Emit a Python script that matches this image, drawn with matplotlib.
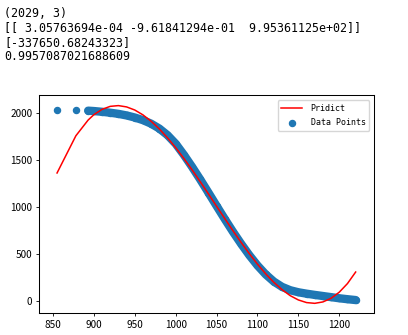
import matplotlib
matplotlib.use('Agg')
import matplotlib.pyplot as plt

# printed output above the chart
out_lines = [
    '(2029, 3)',
    '[[ 3.05763694e-04 -9.61841294e-01  9.95361125e+02]]',
    '[-337650.68243323]',
    '0.9957087021688609',
]

# data points
x_data = [855, 878, 893, 900, 910, 920, 930, 940, 950, 960, 970, 980, 990,
          1000, 1010, 1020, 1030, 1040, 1050, 1060, 1070, 1080, 1090, 1100,
          1110, 1120, 1130, 1140, 1150, 1160, 1170, 1180, 1190, 1200, 1210, 1220]
y_data = [2032, 2031, 2028, 2024, 2016, 2006, 1994, 1977, 1955, 1927, 1889, 1837, 1767,
          1675, 1557, 1429, 1294, 1154, 1012, 872, 736, 607, 486, 376,
          281, 204, 148, 112, 90, 75, 62, 50, 38, 26, 16, 7]

# prediction curve
x_pred = [855, 878, 893, 900, 910, 920, 930, 940, 950, 960, 970, 980, 990,
          1000, 1010, 1020, 1030, 1040, 1050, 1060, 1070, 1080, 1090, 1100,
          1110, 1120, 1130, 1140, 1150, 1160, 1170, 1180, 1190, 1200, 1210, 1220]
y_pred = [1363, 1760, 1928, 1985, 2042, 2074, 2082, 2068, 2035, 1983, 1915, 1833, 1738,
          1633, 1518, 1397, 1270, 1140, 1008, 877, 747, 622, 502, 390,
          287, 196, 118, 54, 8, -20, -28, -13, 26, 91, 183, 306]

x_ticks = [850, 900, 950, 1000, 1050, 1100, 1150, 1200]
y_ticks = [0, 500, 1000, 1500, 2000]

plt.rcParams['xtick.major.size'] = 2.5
plt.rcParams['ytick.major.size'] = 2.5
plt.rcParams['xtick.major.pad'] = 2.5
plt.rcParams['ytick.major.pad'] = 2.5
plt.rcParams['xtick.major.width'] = 0.6
plt.rcParams['ytick.major.width'] = 0.6

fig = plt.figure(figsize=(4.08, 3.35), dpi=100)

for i, line in enumerate(out_lines):
    fig.text(4 / 408, 1 - (13.3 + 14.5 * i) / 335, line, ha='left', va='center',
             family='DejaVu Sans Mono', fontsize=8.4, color='black')

ax = fig.add_axes([39.3 / 408, 22.3 / 335, 335 / 408, 217.4 / 335])

ax.plot(x_pred, y_pred, color='red', lw=1.1, label='Pridict', zorder=3)
# dense band of points
ax.plot(x_data[2:], y_data[2:], color='#1f77b4', lw=6.0, solid_capstyle='round',
        solid_joinstyle='round', zorder=2)
ax.scatter(x_data, y_data, s=19, color='#1f77b4', label='Data Points', zorder=2)

ax.set_xlim(833.3, 1242.8)
ax.set_ylim(-128, 2192)
ax.set_xticks(x_ticks)
ax.set_yticks(y_ticks)
for lab in ax.get_xticklabels() + ax.get_yticklabels():
    lab.set_family('Noto Sans CJK SC')
    lab.set_fontsize(7.2)
for sp in ax.spines.values():
    sp.set_linewidth(0.75)

ax.legend(loc='upper right', prop={'family': 'DejaVu Sans Mono', 'size': 6},
          handlelength=2.5, handletextpad=1.0, borderaxespad=0.6,
          borderpad=0.45, labelspacing=0.6)

fig.savefig('out.png', dpi=100)
